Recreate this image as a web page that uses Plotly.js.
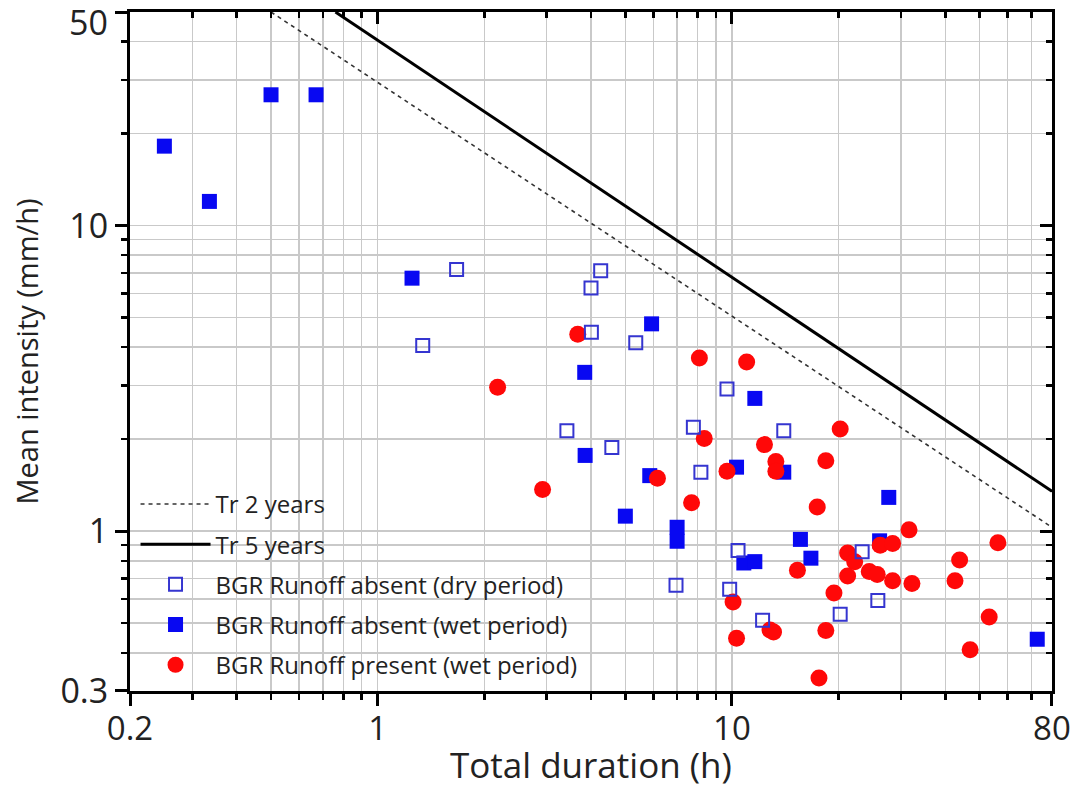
<!DOCTYPE html>
<html>
<head>
<meta charset="utf-8">
<script src="https://cdn.plot.ly/plotly-3.0.1.min.js"></script>
<style>
  html, body { margin: 0; padding: 0; background: #fff; }
  #chart { width: 1073px; height: 790px; }
</style>
</head>
<body>
<div id="chart"></div>
<script>
// ---- Data ----
// BGR Runoff absent (dry period) - hollow squares
const durDry = [1.67, 1.34, 4.26, 4.0, 4.01, 5.35, 3.42, 4.58, 7.78, 9.68, 14.0, 8.17, 10.4, 6.95, 9.85, 12.2, 23.3, 25.8, 20.2];
const intDry = [7.19, 4.05, 7.12, 6.25, 4.48, 4.14, 2.13, 1.88, 2.19, 2.92, 2.13, 1.56, 0.865, 0.666, 0.646, 0.511, 0.857, 0.593, 0.535];

// BGR Runoff absent (wet period) - filled squares
const durWet = [0.25, 0.335, 0.50, 0.67, 1.25, 5.93, 3.84, 11.6, 3.85, 5.86, 5.0, 7.0, 7.0, 10.3, 14.0, 27.7, 15.6, 16.7, 26.1, 10.8, 11.6, 72.7];
const intWet = [18.2, 12.0, 26.8, 26.8, 6.73, 4.77, 3.31, 2.72, 1.77, 1.52, 1.12, 1.03, 0.927, 1.62, 1.56, 1.29, 0.94, 0.816, 0.93, 0.787, 0.795, 0.443];

// BGR Runoff present (wet period) - red circles
const durPresent = [2.18, 3.67, 2.92, 6.16, 8.09, 11.0, 8.35, 9.68, 7.69, 12.35, 13.3, 13.3, 18.4, 20.2, 17.4, 31.6, 15.3, 10.07, 10.3, 12.8, 13.1, 18.4, 17.6, 19.4, 21.2, 22.2, 21.2, 24.4, 25.7, 26.2, 28.4, 28.4, 32.2, 42.6, 43.9, 56.3, 53.2, 47.0];
const intPresent = [2.96, 4.41, 1.37, 1.49, 3.69, 3.58, 2.01, 1.57, 1.24, 1.92, 1.69, 1.57, 1.70, 2.16, 1.20, 1.01, 0.745, 0.587, 0.446, 0.475, 0.468, 0.473, 0.331, 0.628, 0.849, 0.795, 0.714, 0.738, 0.721, 0.90, 0.911, 0.688, 0.674, 0.688, 0.805, 0.916, 0.524, 0.409];

// Return-period IDF lines (end points)
const tr2Dur = [0.5, 80];
const tr2Int = [50, 1.03];
const tr5Dur = [0.76, 80];
const tr5Int = [50, 1.35];

// Tick values / labels
const xTickVals = [0.2, 1, 10, 80];
const xTickText = ['0.2', '1', '10', '80'];
const xMinorVals = [0.3, 0.4, 0.5, 0.6, 0.7, 0.8, 0.9, 2, 3, 4, 5, 6, 7, 8, 9, 20, 30, 40, 50, 60, 70];
const yTickVals = [0.3, 1, 10, 50];
const yTickText = ['0.3', '1', '10', ''];   // the top label "50" sits just below its tick (annotation)
const yTopLabel = '50';
const yMinorVals = [0.4, 0.5, 0.6, 0.7, 0.8, 0.9, 2, 3, 4, 5, 6, 7, 8, 9, 20, 30, 40];
const xTitle = 'Total duration (h)';
const yTitle = 'Mean intensity (mm/h)';

const xRange = [Math.log10(0.2) - 1e-4, Math.log10(80) + 1e-4];
const yRange = [Math.log10(0.3) - 1e-4, Math.log10(50) + 1e-4];

const gridCol = '#c9c9c9';
const fontFam = 'Open Sans, Noto Sans, sans-serif';

const traces = [
  { x: [], y: [], xaxis: 'x2', yaxis: 'y2', type: 'scatter', mode: 'markers', showlegend: false, hoverinfo: 'skip' },
  {
    x: durWet, y: intWet, type: 'scatter', mode: 'markers',
    name: 'BGR Runoff absent (wet period)', legendgroup: 'g4', legendrank: 4,
    marker: { symbol: 'square', size: 15, color: '#0808f2', line: { width: 0 } }
  },
  {
    x: durPresent, y: intPresent, type: 'scatter', mode: 'markers',
    name: 'BGR Runoff present (wet period)', legendgroup: 'g5', legendrank: 5,
    marker: { symbol: 'circle', size: 17, color: '#ff0808', line: { width: 0 } }
  },
  {
    x: durDry, y: intDry, type: 'scatter', mode: 'markers',
    name: 'BGR Runoff absent (dry period)', legendgroup: 'g3', legendrank: 3,
    marker: { symbol: 'square-open', size: 13, color: '#3535d0', line: { width: 2, color: '#3535d0' } }
  },
  {
    x: tr2Dur, y: tr2Int, type: 'scatter', mode: 'lines',
    name: 'Tr 2 years', legendgroup: 'g1', legendrank: 1,
    line: { color: '#333333', width: 1.6, dash: '4px,4px' }
  },
  {
    x: tr5Dur, y: tr5Int, type: 'scatter', mode: 'lines',
    name: 'Tr 5 years', legendgroup: 'g2', legendrank: 2,
    line: { color: '#000000', width: 3 }
  }
];

const layout = {
  width: 1073, height: 790,
  margin: { l: 130, r: 21, t: 12, b: 99 },
  paper_bgcolor: '#ffffff', plot_bgcolor: '#ffffff',
  font: { family: fontFam, color: '#222222' },
  showlegend: true,
  xaxis: {
    type: 'log', range: xRange, automargin: false,
    tickmode: 'array', tickvals: xTickVals, ticktext: xTickText,
    ticks: 'outside', ticklen: 12, tickwidth: 3, tickcolor: '#000',
    showline: true, linewidth: 3, linecolor: '#000', mirror: false,
    showgrid: true, gridcolor: gridCol, gridwidth: 1.5, zeroline: false,
    tickfont: { size: 33, color: '#222' }, ticklabelstandoff: -6,
    minor: { tickmode: 'array', tickvals: xMinorVals, ticks: 'outside', ticklen: 6, tickwidth: 2.5, tickcolor: '#000',
             showgrid: true, gridcolor: gridCol, gridwidth: 1.5 }
  },
  yaxis: {
    type: 'log', range: yRange, automargin: false,
    tickmode: 'array', tickvals: yTickVals, ticktext: yTickText,
    ticks: 'outside', ticklen: 12, tickwidth: 3, tickcolor: '#000',
    showline: true, linewidth: 3, linecolor: '#000', mirror: false,
    showgrid: true, gridcolor: gridCol, gridwidth: 1.5, zeroline: false,
    tickfont: { size: 34, color: '#222' }, ticklabelstandoff: 0,
    title: { text: yTitle, font: { size: 29, color: '#222' }, standoff: 14 },
    minor: { tickmode: 'array', tickvals: yMinorVals, ticks: 'outside', ticklen: 6, tickwidth: 2.5, tickcolor: '#000',
             showgrid: true, gridcolor: gridCol, gridwidth: 1.5 }
  },
  xaxis2: {
    type: 'log', range: xRange, overlaying: 'x', side: 'top', anchor: 'y2',
    tickmode: 'array', tickvals: xTickVals, showticklabels: false,
    ticks: 'inside', ticklen: 12, tickwidth: 3, tickcolor: '#000',
    showline: true, linewidth: 3, linecolor: '#000', showgrid: false, zeroline: false,
    minor: { tickmode: 'array', tickvals: xMinorVals, ticks: 'inside', ticklen: 6, tickwidth: 2.5, tickcolor: '#000', showgrid: false }
  },
  yaxis2: {
    type: 'log', range: yRange, overlaying: 'y', side: 'right', anchor: 'x2',
    tickmode: 'array', tickvals: yTickVals, showticklabels: false,
    ticks: 'inside', ticklen: 12, tickwidth: 3, tickcolor: '#000',
    showline: true, linewidth: 3, linecolor: '#000', showgrid: false, zeroline: false,
    minor: { tickmode: 'array', tickvals: yMinorVals, ticks: 'inside', ticklen: 6, tickwidth: 2.5, tickcolor: '#000', showgrid: false }
  },
  annotations: [
    {
      text: yTopLabel, xref: 'paper', yref: 'paper', x: 0, y: 1,
      xanchor: 'right', yanchor: 'top', xshift: -20, yshift: 15, showarrow: false,
      font: { size: 34, color: '#222', family: fontFam }
    },
    {
      // x-axis title, placed below the tick labels
      text: xTitle, xref: 'paper', yref: 'paper', x: 0.5, y: 0,
      xanchor: 'center', yanchor: 'bottom', yshift: -98, borderpad: 0, showarrow: false,
      font: { size: 35, color: '#222', family: fontFam }
    }
  ],
  legend: {
    x: 0.006, y: 0.308, xanchor: 'left', yanchor: 'top',
    bgcolor: 'rgba(0,0,0,0)', borderwidth: 0,
    font: { size: 24, color: '#222', family: fontFam },
    traceorder: 'grouped', tracegroupgap: 6, itemwidth: 70
  }
};

Plotly.newPlot('chart', traces, layout, { displayModeBar: false, staticPlot: true });
</script>
</body>
</html>
